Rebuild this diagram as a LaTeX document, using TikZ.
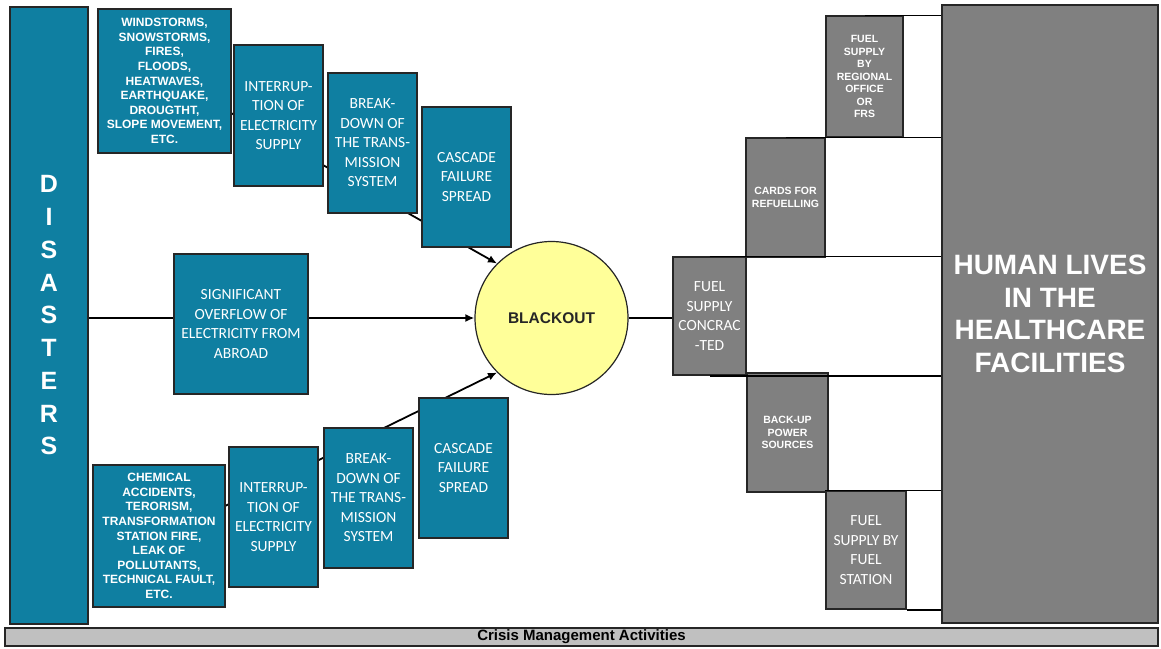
\documentclass[tikz,border=0pt]{standalone}
\usepackage{fontspec}
\setmainfont{Liberation Sans}
\newfontfamily\calfont{Carlito}
\usetikzlibrary{arrows.meta,backgrounds}
\definecolor{teal1}{HTML}{0F7FA1}
\definecolor{gray1}{HTML}{808080}
\definecolor{bar1}{HTML}{C0C0C0}
\definecolor{yel1}{HTML}{FFFF99}
\definecolor{edge1}{HTML}{262626}
\tikzset{
  tbox/.style={draw=edge1, line width=1.2pt, fill=teal1, text=white, inner sep=0pt, align=center},
  gbox/.style={draw=edge1, line width=1.2pt, fill=gray1, text=white, inner sep=0pt, align=center},
  haztxt/.style={font=\bfseries\fontsize{12}{14.6}\selectfont},
  caltxt/.style={font=\calfont\fontsize{15.5}{19.5}\selectfont},
  smalltxt/.style={font=\bfseries\fontsize{10.5}{12.5}\selectfont},
  conn/.style={draw=black, line width=1.8pt},
  arr/.style={conn, -{Latex[length=9pt,width=8pt]}},
}
\begin{document}
\begin{tikzpicture}[x=1pt,y=-1pt]
\useasboundingbox (0,0) rectangle (1161,648);

% left column
\node[tbox, minimum width=78pt, minimum height=617pt, font=\bfseries\fontsize{25}{32.75}\selectfont] (dis) at (49,315.5) {D\\I\\S\\A\\S\\T\\E\\R\\S};

% top chain
\node[tbox, haztxt, minimum width=133pt, minimum height=144pt] (haz1) at (164.5,81)
  {WINDSTORMS,\\SNOWSTORMS,\\FIRES,\\FLOODS,\\HEATWAVES,\\EARTHQUAKE,\\DROUGTHT,\\SLOPE MOVEMENT,\\ETC.};
\node[tbox, caltxt, minimum width=89pt, minimum height=141pt] (int1) at (278.5,115.5)
  {INTERRUP-\\TION OF\\ELECTRICITY\\SUPPLY};
\node[tbox, caltxt, minimum width=89pt, minimum height=140pt] (brk1) at (372.5,143)
  {BREAK-\\DOWN OF\\THE TRANS-\\MISSION\\SYSTEM};
\node[tbox, caltxt, minimum width=89pt, minimum height=140pt] (cas1) at (466.5,177)
  {CASCADE\\FAILURE\\SPREAD};

% middle
\node[tbox, caltxt, minimum width=134pt, minimum height=140pt] (sig) at (241,324)
  {SIGNIFICANT\\OVERFLOW OF\\ELECTRICITY FROM\\ABROAD};

% bottom chain
\node[tbox, haztxt, minimum width=132pt, minimum height=142pt] (haz2) at (159,536)
  {CHEMICAL\\ACCIDENTS,\\TERORISM,\\TRANSFORMATION\\STATION FIRE,\\LEAK OF\\POLLUTANTS,\\TECHNICAL FAULT,\\ETC.};
\node[tbox, caltxt, minimum width=89pt, minimum height=140pt] (int2) at (273.5,517)
  {INTERRUP-\\TION OF\\ELECTRICITY\\SUPPLY};
\node[tbox, caltxt, minimum width=89pt, minimum height=140pt] (brk2) at (368.5,498)
  {BREAK-\\DOWN OF\\THE TRANS-\\MISSION\\SYSTEM};
\node[tbox, caltxt, minimum width=89pt, minimum height=140pt] (cas2) at (463.5,468)
  {CASCADE\\FAILURE\\SPREAD};

% blackout
\node[circle, draw=edge1, line width=1.2pt, fill=yel1, minimum size=153pt, inner sep=0pt,
      font=\bfseries\fontsize{15.5}{18}\selectfont, text=black!85] (bo) at (551.5,318) {BLACKOUT};

% right side
\node[gbox, caltxt, minimum width=73pt, minimum height=118pt] (fuel) at (709.5,316)
  {FUEL\\SUPPLY\\CONCRAC\\-TED};
\node[gbox, smalltxt, minimum width=79pt, minimum height=119pt] (cards) at (785.5,197.5)
  {CARDS FOR\\REFUELLING};
\node[gbox, smalltxt, minimum width=77pt, minimum height=121pt] (reg) at (864.5,76.5)
  {FUEL\\SUPPLY\\BY\\REGIONAL\\OFFICE\\OR\\FRS};
\node[gbox, smalltxt, minimum width=81pt, minimum height=119pt] (backup) at (787.5,432.5)
  {BACK-UP\\POWER\\SOURCES};
\node[gbox, caltxt, minimum width=80pt, minimum height=118pt] (station) at (866,550)
  {FUEL\\SUPPLY BY\\FUEL\\STATION};
\node[gbox, minimum width=216pt, minimum height=618pt, font=\bfseries\fontsize{28}{32.5}\selectfont] (hum) at (1050,314)
  {HUMAN LIVES\\IN THE\\HEALTHCARE\\FACILITIES};

% bottom bar
\node[draw=edge1, line width=1.2pt, fill=bar1, minimum width=1153pt, minimum height=18pt, inner sep=0pt,
      font=\bfseries\fontsize{15}{16}\selectfont] (bar) at (581.5,637) {Crisis Management Activities};

% connectors behind boxes
\coordinate (s1) at (231,113);
\coordinate (s2) at (225,506);
\begin{scope}[on background layer]
  \fill[white] (0,0) rectangle (1161,648);
  \draw[arr] (s1) -- (bo.135);
  \draw[arr] (s2) -- (bo.225);
  \draw[arr] (dis.east |- bo.west) -- (bo.west);
\end{scope}

% connectors on the right
\draw[conn] (bo.east) -- (bo.east -| fuel.west);
\draw[conn] (reg.north) -- (reg.north -| hum.west);
\draw[conn] (cards.north) -- (cards.north -| hum.west);
\draw[conn] (fuel.north) -- (fuel.north -| hum.west);
\draw[conn] (fuel.south) -- (fuel.south -| hum.west);
\draw[conn] (station.north west) -- (station.north west -| hum.west);
\draw[conn] (station.south east) -- (station.south east -| hum.west);
\end{tikzpicture}
\end{document}
